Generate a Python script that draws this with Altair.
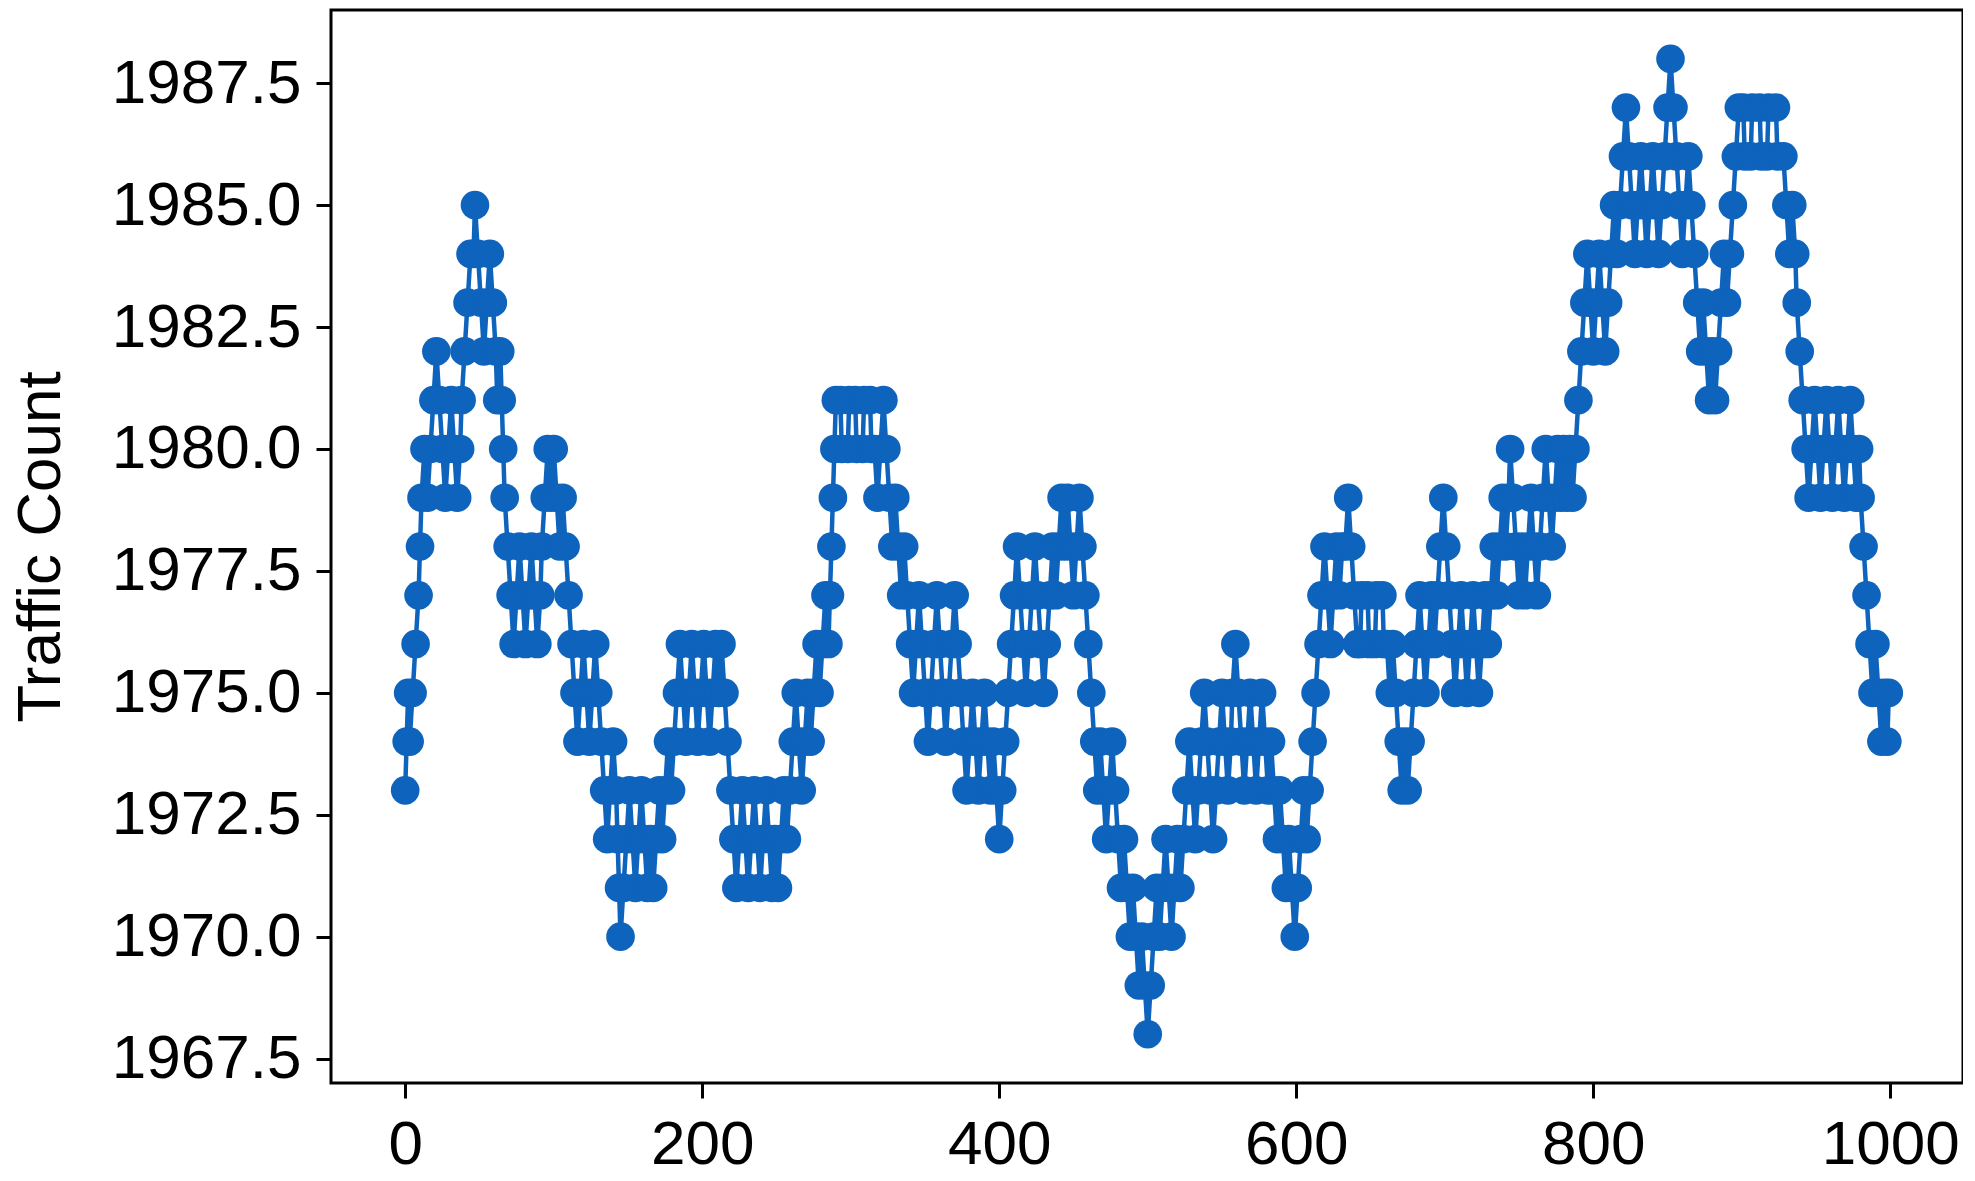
import altair as alt
import pandas as pd

# (time step, traffic count) pairs, segment by segment
seg_a = [(0,1973),(1,1974),(2,1975),(3,1974),(5,1975),(7,1976),(9,1977),(10,1978),(11,1979),(13,1980),
         (15,1979),(17,1980),(19,1981),(21,1982),(23,1981),(25,1980),(27,1979),(29,1980),(31,1981),(33,1980),
         (35,1979),(37,1980),(38,1981),(40,1982),(42,1983),(44,1984),(46,1984),(47,1985),(49,1984),(51,1983),
         (53,1982),(55,1983),(57,1984),(59,1983),(61,1982),(62,1981),(64,1982),(65,1981),(66,1980),(67,1979),
         (69,1978)]
seg_b = [(71,1977),(73,1976),(75,1977),(77,1978),(79,1977),(81,1976),(83,1977),(85,1978),(87,1977),(89,1976),
         (91,1977),(92,1978),(94,1979),(96,1980),(98,1979),(100,1980),(102,1979),(104,1978),(106,1979),(108,1978),
         (110,1977),(112,1976),(114,1975),(116,1974),(118,1975),(120,1976),(122,1975),(124,1974),(126,1975),(128,1976),
         (130,1975),(132,1974),(134,1973),(136,1972),(138,1973),(140,1974),(142,1973),(143,1972),(144,1971),(145,1970),
         (147,1971),(149,1972),(151,1973),(153,1972),(155,1971),(157,1972),(159,1973),(161,1972),(163,1971),(165,1972),
         (167,1971),(169,1972),(171,1973),(173,1972),(175,1973),(177,1974),(179,1973),(181,1974),(183,1975)]
seg_c = [(185,1976),(187,1975),(189,1974),(191,1975),(193,1976),(195,1975),(197,1974),(199,1975),(201,1976),(203,1975),
         (205,1974),(207,1975),(209,1976),(211,1975),(213,1976),(215,1975),(217,1974),(219,1973),(221,1972),(223,1971),
         (225,1972),(227,1973),(229,1972),(231,1971),(233,1972),(235,1973),(237,1972),(239,1971),(241,1972),(243,1973),
         (245,1972),(247,1971),(249,1972),(251,1971),(253,1972),(255,1973),(257,1972),(259,1973),(261,1974),(263,1975),
         (265,1974),(267,1973),(269,1974),(271,1975),(273,1974),(275,1975),(277,1976),(279,1975),(281,1976),(283,1977),
         (285,1976),(286,1977),(287,1978),(288,1979),(289,1980),(290,1981)]
seg_d = [(293,1981),(294,1980),(298,1980),(299,1981),(303,1981),(304,1980),(308,1980),(309,1981),(313,1981),(314,1980),
         (316,1980),(318,1979),(320,1980),(322,1981),(324,1980),(326,1979),(328,1978),(330,1979),
         (332,1978),(334,1977),(336,1978),(338,1977),(340,1976),(342,1975),(344,1976),(346,1977),(348,1976),(350,1975),
         (352,1974),(354,1975),(356,1976),(358,1977),(360,1976),(362,1975),(364,1974),(366,1975),(368,1976),(370,1977),
         (372,1976),(374,1975),(376,1974),(378,1973),(380,1974),(382,1975),(384,1974),(386,1973),(388,1974),(390,1975),
         (392,1974),(394,1973),(396,1974),(398,1973),(400,1972),(402,1973)]
seg_e = [(404,1974),(406,1975),(408,1976),(410,1977),(412,1978),(414,1977),(416,1976),(418,1975),(420,1976),(422,1977),
         (424,1978),(426,1977),(428,1976),(430,1975),(432,1976),(434,1977),(436,1978),(438,1977),(440,1978),(442,1979),
         (444,1978),(446,1979),(448,1978),(450,1977),(452,1978),(454,1979),(456,1978),(458,1977),(460,1976),(462,1975),
         (464,1974),(466,1973),(468,1974),(470,1973),(472,1972),(474,1973),(476,1974),(478,1973),(480,1972),(482,1971),
         (484,1972),(486,1971),(488,1970),(490,1971),(492,1970),(494,1969),(496,1970),(498,1969)]
seg_f = [(500,1968),(502,1969),(504,1970),(506,1971),(508,1970),(510,1971),(512,1972),(514,1971),(516,1970),(518,1971),
         (520,1972),(522,1971),(524,1972),(526,1973),(528,1974),(530,1973),(532,1972),(534,1973),(536,1974),(538,1975),
         (540,1974),(542,1973),(544,1972),(546,1973),(548,1974),(550,1975),(552,1974),(554,1973),(556,1974),(557,1975),
         (559,1976),(561,1975),(563,1974),(565,1973),(567,1974),(569,1975),(571,1974),(573,1973),(575,1974),(577,1975),
         (579,1974),(581,1973),(583,1974),(585,1973),(587,1972),(589,1973),(591,1972),(593,1971),(595,1972),(597,1971),
         (599,1970),(601,1971),(603,1972),(605,1973),(607,1972),(609,1973),(611,1974)]
seg_g = [(613,1975),(615,1976),(617,1977),(619,1978),(621,1977),(623,1976),(625,1977),(627,1978),(629,1977),(631,1978),
         (633,1978),(635,1979),(637,1978),(639,1977),(641,1976),(643,1976),(644,1977),(648,1977),(649,1976),(653,1976),
         (654,1977),(658,1977),(659,1976),(661,1976),(663,1975),(665,1976),(667,1975),(669,1974),(671,1973),
         (673,1974),(675,1973),(677,1974),(679,1975),(681,1976),(683,1977),(685,1976),(687,1975),(689,1976),(691,1977),
         (693,1976),(695,1977),(697,1978),(699,1979)]
seg_h = [(701,1978),(703,1977),(705,1976),(707,1975),(709,1976),(711,1977),(713,1976),(715,1975),(717,1976),(719,1977),
         (721,1976),(723,1975),(725,1976),(727,1977),(729,1976),(731,1977),(733,1978),(735,1977),(737,1978),(739,1979),
         (741,1978),(743,1979),(744,1980),(746,1979),(748,1978),(750,1977),(752,1978),(754,1977),(756,1978),(758,1979),
         (760,1978),(762,1977),(764,1978),(766,1979),(768,1980),(770,1979),(772,1978),(774,1979),(776,1980),(778,1979),
         (780,1980),(782,1979),(784,1980),(786,1979),(788,1980)]
seg_i = [(790,1981),(792,1982),(794,1983),(796,1984),(798,1983),(800,1982),(802,1983),(804,1984),(806,1983),(808,1982),
         (810,1983),(812,1984),(814,1985),(816,1984),(818,1985),(820,1986),(822,1987),(824,1986),(826,1985),(828,1984),
         (830,1985),(832,1986),(834,1985),(836,1984),(838,1985),(840,1986),(842,1985),(844,1984),(846,1985),(848,1986),
         (850,1987),(852,1988),(854,1987),(856,1986),(858,1985),(860,1984),(862,1985),(864,1986),(866,1985),(868,1984),
         (870,1983),(872,1982),(874,1983),(876,1982),(878,1981),(880,1982),(882,1981),(884,1982),(886,1983),(888,1984),
         (890,1983),(892,1984),(894,1985),(896,1986),(898,1987)]
seg_j = [(901,1987),(902,1986),(906,1986),(907,1987),(912,1987),(913,1986),(917,1986),(918,1987),(923,1987),(924,1986),
         (928,1986),(930,1985),(932,1984),(934,1985),(936,1984),(937,1983),
         (939,1982),(941,1981),(943,1980),(945,1979),(947,1980),(949,1981),(951,1980),(953,1979),(955,1980),(957,1981),
         (959,1980),(961,1979),(963,1980),(965,1981),(967,1980),(969,1979),(971,1980),(973,1981),(975,1980),(977,1979),
         (979,1980),(980,1979),(982,1978),(984,1977),(986,1976),(988,1975),(990,1976),(992,1975),(994,1974),(996,1975),
         (998,1974),(999,1975)]

x_ticks = [0, 200, 400, 600, 800, 1000]
y_ticks = [1967.5, 1970.0, 1972.5, 1975.0, 1977.5, 1980.0, 1982.5, 1985.0, 1987.5]

points = seg_a + seg_b + seg_c + seg_d + seg_e + seg_f + seg_g + seg_h + seg_i + seg_j
df = pd.DataFrame(points, columns=["t", "count"])

FONT = "Liberation Sans"
BLUE = "#0e63bc"

base = alt.Chart(df).encode(
    x=alt.X("t:Q",
            scale=alt.Scale(domain=[-49.95, 1048.95], nice=False, zero=False),
            axis=alt.Axis(values=x_ticks, format="d", title=None, grid=False, domain=False,
                          tickSize=15, tickWidth=3, tickColor="black",
                          labelFontSize=62, labelFont=FONT, labelColor="black",
                          labelPadding=16, labelFlush=False, labelOverlap=False,
                          labelLimit=0)),
    y=alt.Y("count:Q",
            scale=alt.Scale(domain=[1967, 1989], nice=False, zero=False),
            axis=alt.Axis(values=y_ticks, format=".1f", title="Traffic Count",
                          grid=False, domain=False,
                          tickSize=15, tickWidth=3, tickColor="black",
                          labelFontSize=62, labelFont=FONT, labelColor="black",
                          labelPadding=15, labelFlush=False, labelOverlap=False,
                          labelLimit=0,
                          titleFont=FONT, titleFontSize=62, titleFontWeight="normal",
                          titleColor="black", titlePadding=59, titleLimit=0)),
    order="t:Q",
)

line = base.mark_line(color=BLUE, strokeWidth=4.5)
dots = base.mark_circle(color=BLUE, size=820, opacity=1)

chart = (
    alt.layer(line, dots)
    .properties(width=1632, height=1073,
                padding={"left": 1, "top": 2, "right": 0, "bottom": 0})
    .configure_view(stroke="black", strokeWidth=3)
)

chart.save("out.html", embed_options={"renderer": "svg", "actions": False})
